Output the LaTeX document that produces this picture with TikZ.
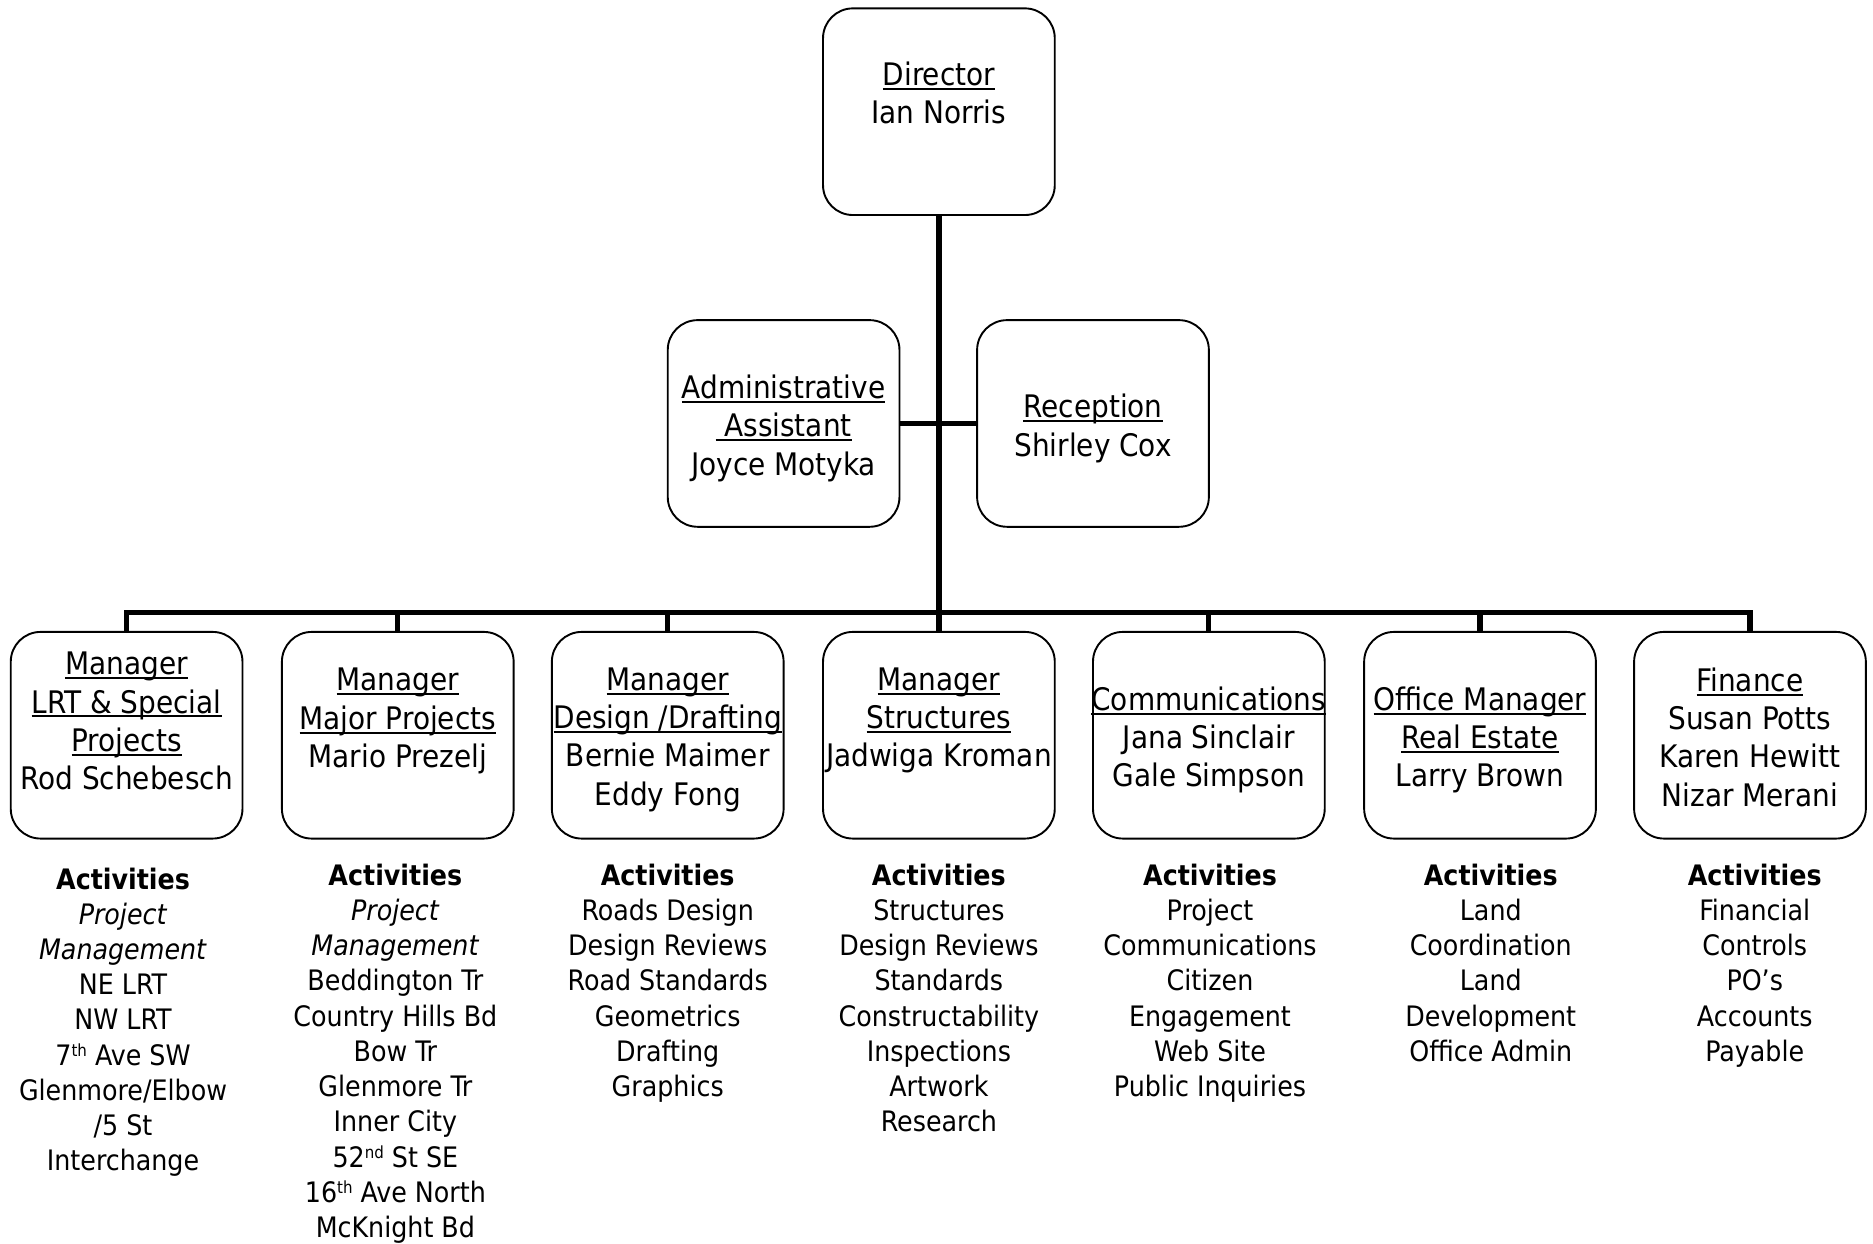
\documentclass[tikz,border=0pt]{standalone}
\usepackage{fontspec}
\setmainfont{DejaVu Sans Condensed}[BoldFont={DejaVu Sans Condensed Bold},ItalicFont={DejaVu Sans Condensed Oblique},BoldItalicFont={DejaVu Sans Condensed Bold Oblique}]
\newcommand{\uln}[1]{\leavevmode\setbox0=\hbox{#1}\rlap{\vrule width\wd0 height -1.0pt depth 1.8pt}\box0}
\newcommand{\sups}[1]{\raisebox{0.55ex}{\fontsize{7}{8}\selectfont #1}}
\newcommand{\boxfont}{\fontsize{13}{16}\selectfont}
\newcommand{\actfont}{\fontsize{11.8}{14.75}\selectfont}
\begin{document}
\begin{tikzpicture}[x=0.5pt,y=-0.5pt,
  orgbox/.style={draw=black,line width=0.8pt,rounded corners=12.5pt,minimum width=97pt,minimum height=86.5pt,inner sep=0pt},
  boxtext/.style={anchor=north,yshift=10.2pt,inner sep=0pt,align=center,font=\boxfont,execute at begin node=\strut},
  acttext/.style={anchor=north,yshift=9.4pt,inner sep=0pt,align=center,font=\actfont,execute at begin node=\strut},
  link/.style={line width=2.2pt,line join=miter}]
\useasboundingbox (0,0) rectangle (1568,1041);
% boxes
\node[orgbox] (dir) at (786,93.5) {};
\node[orgbox] (adm) at (656,354.5) {};
\node[orgbox] (rec) at (915,354.5) {};
\node[orgbox] (b1) at (106,615.5) {};
\node[orgbox] (b2) at (333,615.5) {};
\node[orgbox] (b3) at (559,615.5) {};
\node[orgbox] (b4) at (786,615.5) {};
\node[orgbox] (b5) at (1012,615.5) {};
\node[orgbox] (b6) at (1239,615.5) {};
\node[orgbox] (b7) at (1465,615.5) {};
% connectors
\coordinate (bus) at (786,513);
\draw[link] (dir.south) -- (bus);
\draw[link] (adm.east) -- (rec.west);
\foreach \b in {b1,b2,b3,b4,b5,b6,b7} {\draw[link] (bus) -| (\b.north);}
% box texts
\node[boxtext] (tdir) at (786,72) {\uln{Director}\\Ian Norris};
\node[boxtext] (tadm) at (656,334) {\uln{Administrative}\\\uln{~Assistant}\\Joyce Motyka};
\node[boxtext] (trec) at (915,350) {\uln{Reception}\\Shirley Cox};
\node[boxtext] (tb1) at (106,566) {\uln{Manager}\\\uln{LRT \& Special}\\\uln{Projects}\\Rod Schebesch};
\node[boxtext] (tb2) at (333,579.5) {\uln{Manager}\\\uln{Major Projects}\\Mario Prezelj};
\node[boxtext] (tb3) at (559,579) {\uln{Manager}\\\uln{Design /Drafting}\\Bernie Maimer\\Eddy Fong};
\node[boxtext] (tb4) at (786,579) {\uln{Manager}\\\uln{Structures}\\Jadwiga Kroman};
\node[boxtext] (tb5) at (1012,595) {\uln{Communications}\\Jana Sinclair\\Gale Simpson};
\node[boxtext] (tb6) at (1239,595) {\uln{Office Manager}\\\uln{Real Estate}\\Larry Brown};
\node[boxtext] (tb7) at (1465,579) {\uln{Finance}\\Susan Potts\\Karen Hewitt\\Nizar Merani};
% activities
\node[acttext] (a1) at (103,744.7) {\textbf{Activities}\\\textit{Project}\\\textit{Management}\\NE LRT\\NW LRT\\7\sups{th} Ave SW\\Glenmore/Elbow\\/5 St\\Interchange};
\node[acttext] (a2) at (331,741.5) {\textbf{Activities}\\\textit{Project}\\\textit{Management}\\Beddington Tr\\Country Hills Bd\\Bow Tr\\Glenmore Tr\\Inner City\\52\sups{nd} St SE\\16\sups{th} Ave North\\McKnight Bd};
\node[acttext] (a3) at (559,741.5) {\textbf{Activities}\\Roads Design\\Design Reviews\\Road Standards\\Geometrics\\Drafting\\Graphics};
\node[acttext] (a4) at (786,741.5) {\textbf{Activities}\\Structures\\Design Reviews\\Standards\\Constructability\\Inspections\\Artwork\\Research};
\node[acttext] (a5) at (1013,741.5) {\textbf{Activities}\\Project\\Communications\\Citizen\\Engagement\\Web Site\\Public Inquiries};
\node[acttext] (a6) at (1248,741.5) {\textbf{Activities}\\Land\\Coordination\\Land\\Development\\Office Admin};
\node[acttext] (a7) at (1469,741.5) {\textbf{Activities}\\Financial\\Controls\\PO’s\\Accounts\\Payable};
\end{tikzpicture}
\end{document}
